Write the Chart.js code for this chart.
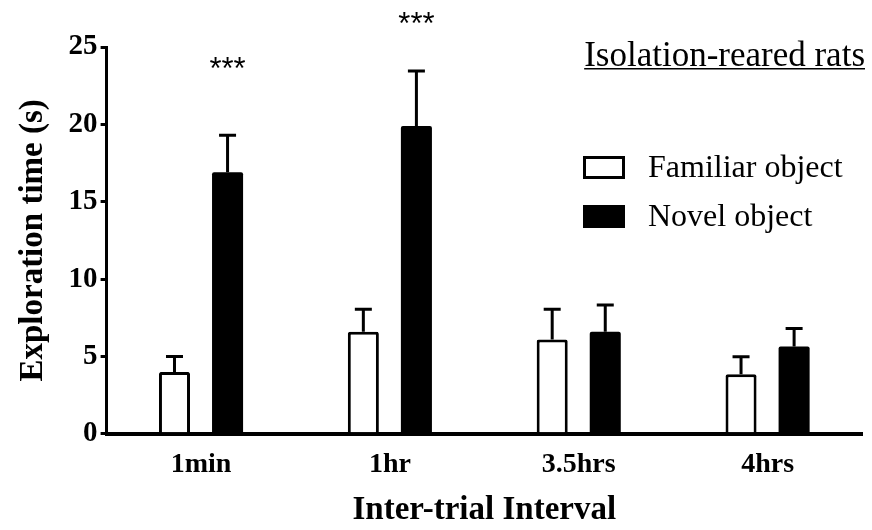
<!DOCTYPE html>
<html>
<head>
<meta charset="utf-8">
<script src="https://cdn.jsdelivr.net/npm/chart.js@4"></script>
<style>
  body { margin: 0; background: #fff; }
  #wrap { width: 872px; height: 530px; }
</style>
</head>
<body>
<div id="wrap"><canvas id="grafico"></canvas></div>
<script>
// Datos
const intervalos = ["1min", "1hr", "3.5hrs", "4hrs"];
const familiar = [4.0, 6.6, 6.1, 3.85];
const familiarErr = [1.0, 1.45, 1.95, 1.13];
const novel = [16.9, 19.9, 6.6, 5.65];
const novelErr = [2.4, 3.55, 1.73, 1.15];
// altura (en segundos) de los asteriscos sobre cada barra de objeto nuevo
const estrellas = [24.0, 26.9, null, null];
const yTicks = [0, 5, 10, 15, 20, 25];

const serif = "'Liberation Serif', 'Times New Roman', serif";

// Barras de error (solo hacia arriba, con tapa)
const barrasError = {
    id: "barrasError",
    afterDatasetsDraw(chart) {
        const ctx = chart.ctx;
        const y = chart.scales.y;
        const errores = [familiarErr, novelErr];
        ctx.save();
        ctx.strokeStyle = "#000";
        ctx.lineWidth = 3;
        chart.data.datasets.forEach((ds, d) => {
            const meta = chart.getDatasetMeta(d);
            meta.data.forEach((bar, i) => {
                const v = ds.data[i];
                const yTop = y.getPixelForValue(v + errores[d][i]);
                const yBar = y.getPixelForValue(v);
                ctx.beginPath();
                ctx.moveTo(bar.x, yBar);
                ctx.lineTo(bar.x, yTop);
                ctx.moveTo(bar.x - 8.5, yTop);
                ctx.lineTo(bar.x + 8.5, yTop);
                ctx.stroke();
            });
        });
        // asteriscos
        const metaNovel = chart.getDatasetMeta(1);
        ctx.fillStyle = "#000";
        ctx.font = "31px 'Liberation Sans', Arial, sans-serif";
        ctx.textAlign = "center";
        ctx.textBaseline = "middle";
        estrellas.forEach((e, i) => {
            if (e === null) return;
            ctx.fillText("***", metaNovel.data[i].x, y.getPixelForValue(e) + 8);
        });
        ctx.restore();
    }
};

// Leyenda y titulo dibujados a mano dentro del area
const leyenda = {
    id: "leyenda",
    afterDraw(chart) {
        const ctx = chart.ctx;
        ctx.save();
        ctx.fillStyle = "#000";
        ctx.textBaseline = "alphabetic";
        ctx.textAlign = "left";
        // titulo subrayado
        ctx.font = "35px " + serif;
        const titulo = "Isolation-reared rats";
        const w = ctx.measureText(titulo).width;
        const tx = 865 - w;
        ctx.fillText(titulo, tx, 66);
        ctx.fillRect(tx, 68, w, 1.5);
        // entradas de leyenda
        ctx.font = "32px " + serif;
        chart.data.datasets.forEach((ds, d) => {
            const cy = 167 + d * 49;
            ctx.fillStyle = ds.backgroundColor;
            ctx.fillRect(583, cy - 11, 42, 23);
            ctx.strokeStyle = "#000";
            ctx.lineWidth = 3;
            ctx.strokeRect(584.5, cy - 9.5, 39, 20);
            ctx.fillStyle = "#000";
            ctx.fillText(ds.label, 648, cy + 10);
        });
        ctx.restore();
    }
};

new Chart(document.getElementById("grafico"), {
    type: "bar",
    data: {
        labels: intervalos,
        datasets: [
            {
                label: "Familiar object",
                data: familiar,
                backgroundColor: "#fff",
                borderColor: "#000",
                borderWidth: 3,
                borderRadius: 2
            },
            {
                label: "Novel object",
                data: novel,
                backgroundColor: "#000",
                borderColor: "#000",
                borderWidth: 0,
                borderRadius: 2
            }
        ]
    },
    plugins: [barrasError, leyenda],
    options: {
        responsive: true,
        maintainAspectRatio: false,
        animation: false,
        layout: { padding: { top: 47, right: 10, left: 14, bottom: 0 } },
        plugins: {
            legend: { display: false },
            tooltip: { enabled: false }
        },
        datasets: {
            bar: { categoryPercentage: 0.562, barPercentage: 0.585 }
        },
        scales: {
            x: {
                grid: { display: false },
                border: { display: true, color: "#000", width: 4 },
                ticks: {
                    color: "#000",
                    padding: 6,
                    font: { family: serif, size: 28, weight: "bold" }
                },
                title: {
                    display: true,
                    text: "Inter-trial Interval",
                    color: "#000",
                    padding: { top: 3, bottom: 0 },
                    font: { family: serif, size: 33, weight: "bold" }
                }
            },
            y: {
                min: 0,
                max: 25,
                afterBuildTicks(axis) {
                    axis.ticks = yTicks.map(v => ({ value: v }));
                },
                grid: {
                    display: true,
                    drawOnChartArea: false,
                    drawTicks: true,
                    tickLength: 6,
                    lineWidth: 3,
                    color: "#000"
                },
                border: { display: true, color: "#000", width: 3 },
                ticks: {
                    color: "#000",
                    padding: 3,
                    font: { family: serif, size: 29, weight: "bold" }
                },
                title: {
                    display: true,
                    text: "Exploration time (s)",
                    color: "#000",
                    padding: { top: 0, bottom: 12 },
                    font: { family: serif, size: 33, weight: "bold" }
                }
            }
        }
    }
});
</script>
</body>
</html>
